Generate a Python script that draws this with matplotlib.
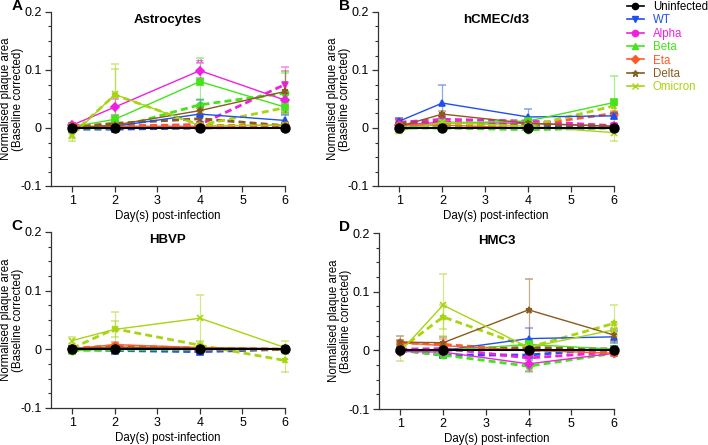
import matplotlib.pyplot as plt
from matplotlib.lines import Line2D
from matplotlib.ticker import MultipleLocator
from matplotlib.colors import to_rgba

plt.rcParams['font.family'] = ['Liberation Sans', 'DejaVu Sans']

days = [1, 2, 4, 6]
variants = ['WT', 'Alpha', 'Beta', 'Eta', 'Delta', 'Omicron']
colors = {'Uninfected': '#000000', 'WT': '#1f4ff0', 'Alpha': '#f020e0',
          'Beta': '#44e41c', 'Eta': '#ff5a28', 'Delta': '#8a5a1e', 'Omicron': '#a8d410'}
titles = ['Astrocytes', 'hCMEC/d3', 'HBVP', 'HMC3']
letters = ['A', 'B', 'C', 'D']

# Astrocytes
astro_solid = {'WT': [0.0, 0.003, 0.024, 0.013], 'Alpha': [0.005, 0.036, 0.099, 0.048],
               'Beta': [0.002, 0.015, 0.080, 0.036], 'Eta': [0.003, 0.003, 0.003, 0.005],
               'Delta': [0.0, 0.005, 0.030, 0.063], 'Omicron': [-0.013, 0.058, 0.004, 0.005]}
astro_solid_err = {'WT': [0.003, 0.003, 0.025, 0.01], 'Alpha': [0.004, 0.014, 0.013, 0.012],
                   'Beta': [0.003, 0.008, 0.04, 0.01], 'Eta': [0.003, 0.003, 0.003, 0.003],
                   'Delta': [0.002, 0.003, 0.005, 0.035], 'Omicron': [0.01, 0.053, 0.004, 0.005]}
astro_dashed = {'WT': [-0.002, -0.002, 0.0, 0.002], 'Alpha': [0.003, 0.003, 0.006, 0.075],
                'Beta': [0.0, 0.0, 0.040, 0.060], 'Eta': [0.005, 0.005, 0.005, 0.005],
                'Delta': [0.002, 0.008, 0.016, 0.004], 'Omicron': [-0.01, 0.057, 0.005, 0.035]}
astro_dashed_err = {'WT': [0.003, 0.004, 0.003, 0.003], 'Alpha': [0.003, 0.003, 0.004, 0.03],
                    'Beta': [0.003, 0.003, 0.01, 0.035], 'Eta': [0.003, 0.003, 0.003, 0.003],
                    'Delta': [0.003, 0.004, 0.005, 0.004], 'Omicron': [0.008, 0.044, 0.004, 0.01]}

# hCMEC/d3
hcmec_solid = {'WT': [0.012, 0.043, 0.019, 0.021], 'Alpha': [0.005, 0.010, 0.008, 0.003],
               'Beta': [0.0, 0.008, 0.012, 0.044], 'Eta': [0.005, 0.005, 0.0, 0.0],
               'Delta': [0.003, 0.024, 0.008, 0.003], 'Omicron': [-0.005, 0.010, 0.003, -0.008]}
hcmec_solid_err = {'WT': [0.005, 0.031, 0.013, 0.005], 'Alpha': [0.004, 0.005, 0.004, 0.003],
                   'Beta': [0.003, 0.004, 0.004, 0.046], 'Eta': [0.01, 0.004, 0.003, 0.003],
                   'Delta': [0.004, 0.005, 0.006, 0.003], 'Omicron': [0.003, 0.004, 0.003, 0.014]}
hcmec_dashed = {'WT': [0.003, 0.003, 0.004, 0.002], 'Alpha': [0.010, 0.015, 0.012, 0.004],
                'Beta': [0.0, 0.0, -0.003, 0.0], 'Eta': [0.008, 0.008, 0.005, 0.025],
                'Delta': [0.008, 0.010, 0.006, 0.003], 'Omicron': [0.003, 0.005, 0.003, 0.038]}
hcmec_dashed_err = {'WT': [0.003, 0.003, 0.003, 0.003], 'Alpha': [0.005, 0.005, 0.004, 0.003],
                    'Beta': [0.003, 0.003, 0.003, 0.003], 'Eta': [0.01, 0.004, 0.004, 0.005],
                    'Delta': [0.004, 0.004, 0.004, 0.003], 'Omicron': [0.003, 0.004, 0.003, 0.01]}

# HBVP
hbvp_solid = {'WT': [0.002, 0.001, 0.0, 0.001], 'Alpha': [0.0, 0.003, 0.001, 0.0],
              'Beta': [-0.002, 0.001, 0.001, 0.001], 'Eta': [0.001, 0.008, 0.003, 0.001],
              'Delta': [0.001, 0.004, 0.002, 0.001], 'Omicron': [0.015, 0.034, 0.053, 0.003]}
hbvp_solid_err = {'WT': [0.003, 0.003, 0.003, 0.003], 'Alpha': [0.003, 0.003, 0.003, 0.003],
                  'Beta': [0.003, 0.003, 0.003, 0.003], 'Eta': [0.003, 0.004, 0.003, 0.003],
                  'Delta': [0.003, 0.003, 0.003, 0.003], 'Omicron': [0.006, 0.03, 0.04, 0.011]}
hbvp_dashed = {'WT': [0.0, -0.002, -0.004, 0.0], 'Alpha': [0.0, 0.0, -0.001, 0.0],
               'Beta': [-0.002, -0.001, 0.0, 0.0], 'Eta': [0.002, 0.006, 0.002, 0.0],
               'Delta': [0.001, 0.002, 0.001, 0.0], 'Omicron': [0.002, 0.035, 0.007, -0.019]}
hbvp_dashed_err = {'WT': [0.003, 0.003, 0.003, 0.003], 'Alpha': [0.003, 0.003, 0.003, 0.003],
                   'Beta': [0.003, 0.003, 0.003, 0.003], 'Eta': [0.003, 0.003, 0.003, 0.003],
                   'Delta': [0.003, 0.003, 0.003, 0.003], 'Omicron': [0.004, 0.014, 0.007, 0.02]}

# HMC3
hmc3_solid = {'WT': [0.0, 0.0, 0.020, 0.023], 'Alpha': [-0.002, -0.003, -0.023, -0.005],
              'Beta': [0.0, 0.0, 0.010, 0.002], 'Eta': [0.013, 0.008, 0.0, -0.005],
              'Delta': [0.014, 0.013, 0.069, 0.026], 'Omicron': [-0.002, 0.077, 0.005, 0.035]}
hmc3_solid_err = {'WT': [0.004, 0.004, 0.018, 0.01], 'Alpha': [0.003, 0.004, 0.012, 0.004],
                  'Beta': [0.003, 0.004, 0.01, 0.004], 'Eta': [0.005, 0.005, 0.004, 0.003],
                  'Delta': [0.011, 0.01, 0.052, 0.01], 'Omicron': [0.016, 0.053, 0.01, 0.01]}
hmc3_dashed = {'WT': [0.0, -0.008, -0.008, 0.003], 'Alpha': [0.002, 0.003, -0.013, -0.003],
               'Beta': [0.0, -0.008, -0.027, -0.005], 'Eta': [0.013, 0.010, 0.0, -0.002],
               'Delta': [0.0, 0.0, 0.005, 0.002], 'Omicron': [0.002, 0.057, 0.005, 0.046]}
hmc3_dashed_err = {'WT': [0.003, 0.004, 0.008, 0.004], 'Alpha': [0.003, 0.003, 0.01, 0.004],
                   'Beta': [0.003, 0.004, 0.01, 0.004], 'Eta': [0.004, 0.01, 0.004, 0.003],
                   'Delta': [0.003, 0.003, 0.005, 0.003], 'Omicron': [0.004, 0.02, 0.01, 0.032]}

uninfected = [0.0, 0.0, 0.0, 0.0]

panels = [(astro_solid, astro_solid_err, astro_dashed, astro_dashed_err),
          (hcmec_solid, hcmec_solid_err, hcmec_dashed, hcmec_dashed_err),
          (hbvp_solid, hbvp_solid_err, hbvp_dashed, hbvp_dashed_err),
          (hmc3_solid, hmc3_solid_err, hmc3_dashed, hmc3_dashed_err)]

solid_markers = {'WT': '^', 'Alpha': 'D', 'Beta': 's', 'Eta': 'o', 'Delta': '*', 'Omicron': 'x'}
dashed_markers = {'WT': 's', 'Alpha': 'v', 'Beta': 'o', 'Eta': 'o', 'Delta': '*', 'Omicron': '*'}
legend_markers = {'Uninfected': 'o', 'WT': 'v', 'Alpha': 'o', 'Beta': '^', 'Eta': 'D',
                  'Delta': '*', 'Omicron': 'x'}

W, H = 708, 445
FS = 8
fig = plt.figure(figsize=(W / 100, H / 100), dpi=100)
# axes boxes in pixels: left, top, right, bottom
boxes = [(51, 12, 285, 186), (378, 12, 614, 186), (51, 232, 285, 408), (379, 233, 614, 409)]

for i, (l, t, r, b) in enumerate(boxes):
    ax = fig.add_axes([l / W, 1 - b / H, (r - l) / W, (b - t) / H])
    solid, solid_err, dashed, dashed_err = panels[i]
    for v in variants:
        c = colors[v]
        ec = to_rgba(c, 0.5)
        ax.errorbar(days, dashed[v], yerr=dashed_err[v], color=c, ls=(0, (2.5, 1.5)), lw=2.0,
                    marker=dashed_markers[v], ms=4.5, mew=1.2, ecolor=ec, elinewidth=0.9,
                    capsize=3, capthick=0.9, clip_on=False, zorder=3)
        ax.errorbar(days, solid[v], yerr=solid_err[v], color=c, ls='-', lw=1.0,
                    marker=solid_markers[v], ms=4.5, mew=1.2, ecolor=ec, elinewidth=0.9,
                    capsize=3, capthick=0.9, clip_on=False, zorder=4)
    ax.plot(days, uninfected, color='black', lw=1.5, marker='o', ms=6.5, clip_on=False, zorder=6)

    ax.set_xlim(0.5, 6.0)
    ax.set_ylim(-0.1, 0.2)
    ax.set_xticks([1, 2, 3, 4, 5, 6])
    ax.set_yticks([-0.1, 0, 0.1, 0.2])
    ax.set_yticklabels(['-0.1', '0', '0.1', '0.2'])
    ax.yaxis.set_minor_locator(MultipleLocator(0.025))
    for s in ['top', 'right']:
        ax.spines[s].set_visible(False)
    for s in ['left', 'bottom']:
        ax.spines[s].set_color('#333333')
        ax.spines[s].set_linewidth(0.9)
    ax.tick_params(which='major', length=4.5, width=0.9, color='#333333', labelsize=9, pad=2)
    ax.tick_params(which='minor', length=2.5, width=0.8, color='#333333')
    ax.set_xlabel('Day(s) post-infection', fontsize=FS + 0.3, labelpad=2)
    ax.set_ylabel('Normalised plaque area\n(Baseline corrected)', fontsize=FS + 0.3,
                  linespacing=1.0)
    ax.yaxis.set_label_coords(-27 / (r - l), 0.5)
    ax.set_title(titles[i], fontsize=9.5, fontweight='bold', pad=-4, y=0.97)
    fig.text((l - 34) / W, 1 - (t - 6) / H, letters[i], fontsize=11, fontweight='bold',
             ha='center', va='center')
    if i == 0:
        ax.text(4, 0.112, '**', color=colors['Alpha'], fontsize=8, ha='center', va='center')

handles = [Line2D([0], [0], color=colors[k], marker=legend_markers[k], ms=4.5, lw=1.2)
           for k in ['Uninfected'] + variants]
leg = fig.legend(handles, ['Uninfected'] + variants, loc='upper left',
                 bbox_to_anchor=(627 / W, 1 - 1 / H), frameon=False, fontsize=FS + 0.3,
                 handlelength=1.45, handletextpad=0.8, labelspacing=0.12,
                 borderpad=0, borderaxespad=0)
for txt, k in zip(leg.get_texts(), ['Uninfected'] + variants):
    txt.set_color(colors[k])

fig.savefig('out.png', dpi=100)
